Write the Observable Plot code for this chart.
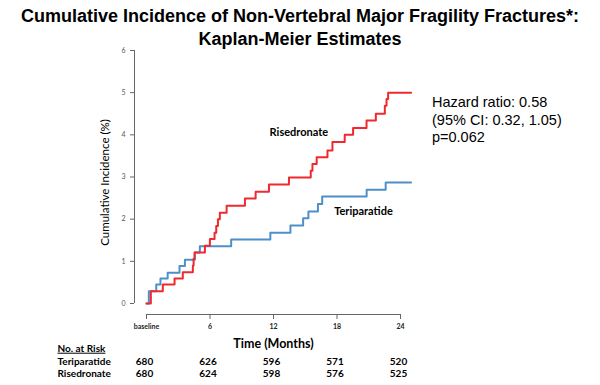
<!DOCTYPE html>
<html><head><meta charset="utf-8">
<script src="https://cdn.jsdelivr.net/npm/d3@7"></script>
<script src="https://cdn.jsdelivr.net/npm/@observablehq/plot@0.6"></script>
<style>
body{margin:0;background:#fff;}
#wrap{position:relative;width:600px;height:385px;overflow:hidden;background:#fff;}
#chart svg{position:absolute;left:0;top:0;}
#title{position:absolute;left:0;top:5px;width:600px;text-align:center;font:bold 18px "Liberation Sans",Arial,sans-serif;line-height:23px;color:#000;}
#hr{position:absolute;left:432px;top:94px;font:14.5px "Liberation Sans",Arial,sans-serif;line-height:17.7px;color:#000;white-space:nowrap;}
</style></head><body>
<div id="wrap">
  <div id="chart"></div>
  <div id="title">Cumulative Incidence of Non-Vertebral Major Fragility Fractures*:<br>Kaplan-Meier Estimates</div>
  <div id="hr">Hazard ratio: 0.58<br>(95% CI: 0.32, 1.05)<br>p=0.062</div>
</div>
<script>
// Kaplan-Meier step curves (months, cumulative incidence %)
const teriMonths = [0, 0.22, 0.92, 1.32, 2.0, 3.12, 3.63, 4.57, 5.04, 8.0, 11.7, 13.6, 14.8, 15.3, 16.2, 16.6, 20.8, 22.6, 25.0];
const teriValues = [0, 0.29, 0.45, 0.59, 0.73, 0.89, 1.04, 1.21, 1.36, 1.52, 1.68, 1.85, 2.02, 2.18, 2.36, 2.54, 2.70, 2.87, 2.87];
const riseMonths = [0, 0.41, 1.54, 2.65, 3.43, 4.38, 4.45, 4.54, 5.52, 5.99, 6.43, 6.59, 6.75, 6.93, 7.57, 9.30, 10.31, 11.57, 13.46, 15.52, 15.68, 16.08, 17.10, 17.57, 18.73, 19.52, 20.79, 21.67, 22.52, 22.68, 22.83, 25.0];
const riseValues = [0, 0.29, 0.45, 0.59, 0.74, 0.90, 1.06, 1.21, 1.37, 1.53, 1.68, 1.84, 2.0, 2.15, 2.32, 2.49, 2.65, 2.82, 2.99, 3.15, 3.31, 3.47, 3.63, 3.83, 4.0, 4.16, 4.34, 4.50, 4.69, 4.85, 5.0, 5.0];

const xTicks = [0, 6, 12, 18, 24];
const xTickLabels = ["baseline", "6", "12", "18", "24"];
const yTicks = [0, 1, 2, 3, 4, 5, 6];

const riskMonths = [0, 6, 12, 18, 24];
const riskTeri = [680, 626, 596, 571, 520];
const riskRise = [680, 624, 598, 576, 525];

const seriesNames = ["Teriparatide", "Risedronate"];
const labelMonths = [20.5, 14.4];
const labelValues = [2.18, 4.05];

const blue = "#4f8fc9";
const red = "#ee2a2e";

const teri = teriMonths.map((m, i) => ({month: m, value: teriValues[i]}));
const rise = riseMonths.map((m, i) => ({month: m, value: riseValues[i]}));
const labels = seriesNames.map((n, i) => ({name: n, month: labelMonths[i], value: labelValues[i]}));
const riskT = riskMonths.map((m, i) => ({month: m, n: riskTeri[i]}));
const riskR = riskMonths.map((m, i) => ({month: m, n: riskRise[i]}));

const axisGray = "#666";
const bold10 = {fontWeight: "bold", fontSize: 10, fill: "#000", lineAnchor: "middle"};

const plot = Plot.plot({
  width: 600, height: 385,
  marginLeft: 134, marginRight: 200, marginTop: 50, marginBottom: 71,
  insetLeft: 12, insetBottom: 11,
  x: {domain: [0, 24]},
  y: {domain: [0, 6]},
  style: {fontFamily: "Lato, 'Open Sans', sans-serif", fontSize: "10px", background: "transparent", overflow: "visible", color: "#000"},
  marks: [
    Plot.axisY({ticks: yTicks, tickSize: 4, tickPadding: 5, fontSize: 7, fill: "#555", stroke: axisGray, tickFormat: d => String(d), label: null}),
    Plot.axisX({ticks: xTicks, tickSize: 5, tickPadding: 5, fontSize: 7, fontWeight: "bold", fill: "#222", stroke: axisGray,
      tickFormat: d => xTickLabels[xTicks.indexOf(d)], label: null}),
    Plot.ruleX([0], {y1: 0, y2: 6, dx: -12, stroke: axisGray}),
    Plot.ruleY([0], {x1: 0, x2: 24, dy: 11, stroke: axisGray}),
    Plot.line(teri, {x: "month", y: "value", curve: "step-after", stroke: blue, strokeWidth: 2}),
    Plot.line(rise, {x: "month", y: "value", curve: "step-after", stroke: red, strokeWidth: 2}),
    Plot.text(labels, {x: "month", y: "value", text: "name", fontWeight: "bold", fontSize: 11, fill: "#000"}),
    Plot.text(["Cumulative Incidence (%)"], {text: d => d, frameAnchor: "left", textAnchor: "middle", lineAnchor: "middle", rotate: -90, dx: -29, fontSize: 11.5, fill: "#000"}),
    Plot.text(["Time (Months)"], {text: d => d, frameAnchor: "bottom", textAnchor: "middle", dx: 6, dy: 29, ...bold10, fontSize: 12.5}),
    Plot.text(["No. at Risk"], {text: d => d, frameAnchor: "bottom-left", dx: -77, dy: 34, textAnchor: "start", ...bold10}),
    Plot.text(["Teriparatide"], {text: d => d, frameAnchor: "bottom-left", dx: -77, dy: 47, textAnchor: "start", ...bold10}),
    Plot.text(["Risedronate"], {text: d => d, frameAnchor: "bottom-left", dx: -77, dy: 59, textAnchor: "start", ...bold10}),
    Plot.text(riskT, {x: "month", text: "n", frameAnchor: "bottom", textAnchor: "middle", dy: 47, dx: -2, ...bold10}),
    Plot.text(riskR, {x: "month", text: "n", frameAnchor: "bottom", textAnchor: "middle", dy: 59, dx: -2, ...bold10})
  ]
});
document.getElementById("chart").appendChild(plot);
d3.select(plot).selectAll("text").filter(function(){ return this.textContent === "No. at Risk"; })
  .style("text-decoration", "underline");
</script>
</body></html>
